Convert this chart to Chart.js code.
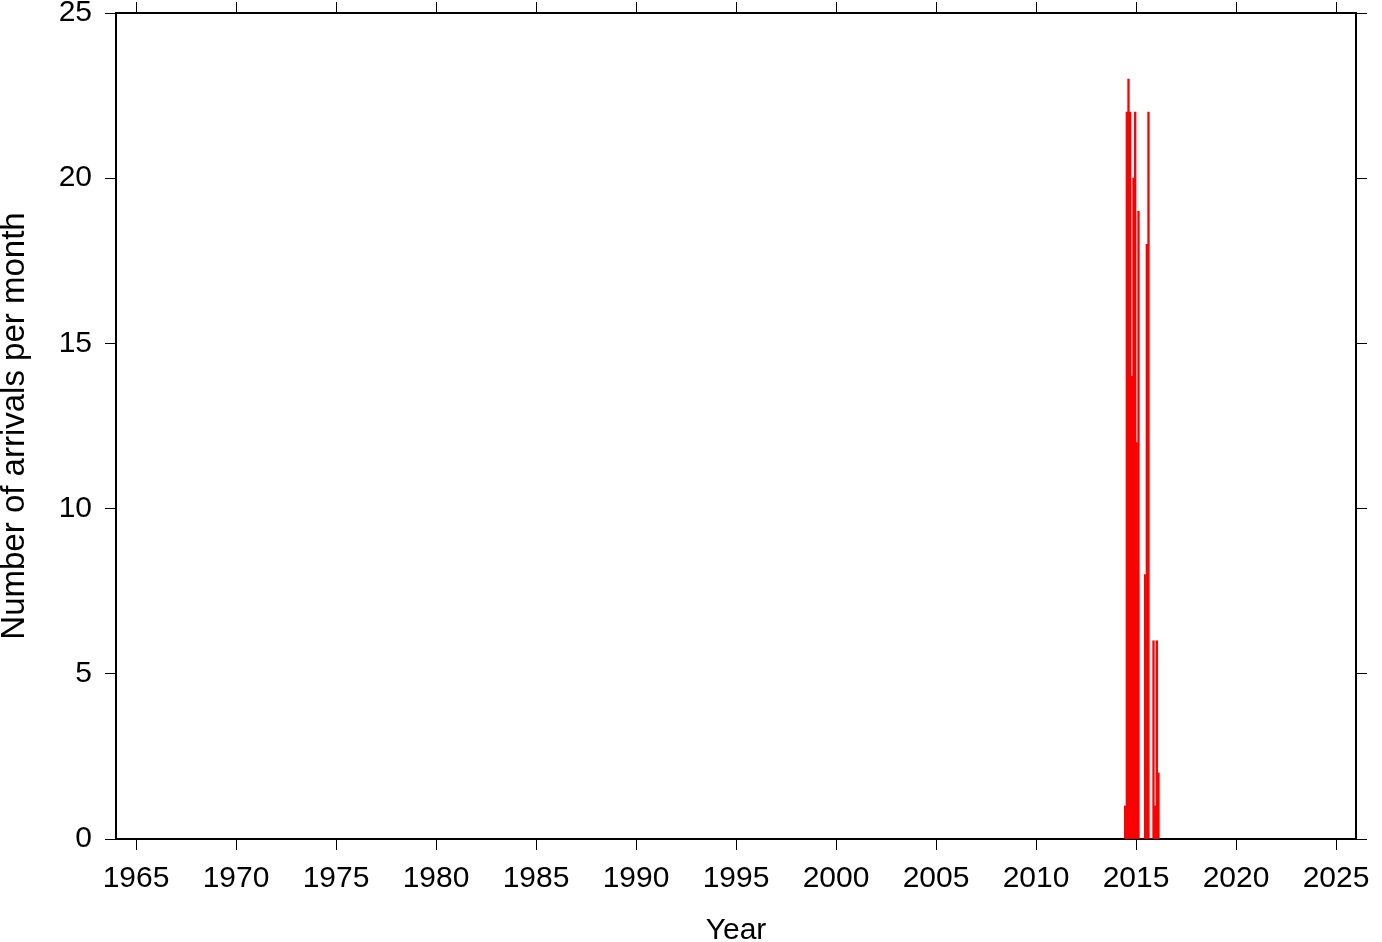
<!DOCTYPE html>
<html>
<head>
<meta charset="utf-8">
<script src="https://cdn.jsdelivr.net/npm/chart.js@4/dist/chart.umd.min.js"></script>
<style>
  html, body { margin: 0; padding: 0; background: #fff; }
  #wrap { width: 1382px; height: 942px; }
</style>
</head>
<body>
<div id="wrap"><canvas id="chart" width="1382" height="942"></canvas></div>
<script>
/* ================================
   Data (monthly arrival counts)
================================ */
const months = [
  '2014-06', '2014-07', '2014-08', '2014-09', '2014-10', '2014-11', '2014-12',
  '2015-01', '2015-02', '2015-03', '2015-04', '2015-05', '2015-06', '2015-07',
  '2015-08', '2015-09', '2015-10', '2015-11', '2015-12', '2016-01', '2016-02'
];
const arrivals = [1, 22, 23, 22, 14, 20, 22, 12, 19, 0, 0, 0, 8, 18, 22, 0, 0, 6, 1, 6, 2];

const yearTicks = [1965, 1970, 1975, 1980, 1985, 1990, 1995, 2000, 2005, 2010, 2015, 2020, 2025];
const countTicks = [0, 5, 10, 15, 20, 25];

/* ================================
   Helpers
================================ */
// '2014-06' -> middle of that month as a decimal year
function monthToYear(m) {
  const [y, mo] = m.split('-').map(Number);
  return y + (mo - 0.5) / 12;
}

const FAMILY = "'Liberation Sans', Arial, sans-serif";
const TICK_FONT = { family: FAMILY, size: 30, lineHeight: 1 };

function frameGrid() {
  return {
    display: true,
    offset: false,
    drawOnChartArea: false,
    drawTicks: true,
    tickLength: 11,
    color: '#000',
    lineWidth: 1
  };
}

const frameBorder = { display: true, color: '#000', width: 2 };

/* ================================
   Chart
================================ */
new Chart(document.getElementById('chart').getContext('2d'), {
  type: 'bar',
  data: {
    datasets: [{
      data: months.map((m, i) => ({ x: monthToYear(m), y: arrivals[i] })),
      backgroundColor: 'rgb(255,0,0)',
      borderWidth: 0,
      barPercentage: 1,
      categoryPercentage: 1
    }]
  },
  options: {
    responsive: false,
    animation: false,
    layout: { padding: 0 },
    plugins: {
      legend: { display: false },
      tooltip: { enabled: false }
    },
    scales: {
      x: {
        type: 'linear',
        position: 'bottom',
        offset: false,
        min: 1964,
        max: 2026,
        grid: frameGrid(),
        border: frameBorder,
        afterBuildTicks: s => { s.ticks = yearTicks.map(v => ({ value: v })); },
        afterFit: s => { s.height = 103; s.paddingLeft = 0; s.paddingRight = 0; },
        ticks: {
          color: '#000',
          font: TICK_FONT,
          padding: 14,
          maxRotation: 0,
          autoSkip: false,
          callback: v => String(v)
        },
        title: {
          display: true,
          text: 'Year',
          color: '#000',
          font: { family: FAMILY, size: 30, lineHeight: 0.75 },
          padding: 0
        }
      },
      x2: {
        type: 'linear',
        position: 'top',
        offset: false,
        min: 1964,
        max: 2026,
        grid: frameGrid(),
        border: frameBorder,
        afterBuildTicks: s => { s.ticks = yearTicks.map(v => ({ value: v })); },
        afterFit: s => { s.height = 13; s.paddingLeft = 0; s.paddingRight = 0; },
        ticks: { display: false }
      },
      y: {
        type: 'linear',
        position: 'left',
        min: 0,
        max: 25,
        grid: frameGrid(),
        border: frameBorder,
        afterBuildTicks: s => { s.ticks = countTicks.map(v => ({ value: v })); },
        afterFit: s => { s.width = 116; s.paddingTop = 0; s.paddingBottom = 0; },
        ticks: {
          color: '#000',
          font: TICK_FONT,
          padding: 13,
          callback: v => String(v)
        },
        title: {
          display: true,
          text: 'Number of arrivals per month',
          color: '#000',
          font: { family: FAMILY, size: 33, lineHeight: 0.9 },
          padding: 0
        }
      },
      y2: {
        type: 'linear',
        position: 'right',
        min: 0,
        max: 25,
        grid: frameGrid(),
        border: frameBorder,
        afterBuildTicks: s => { s.ticks = countTicks.map(v => ({ value: v })); },
        afterFit: s => { s.width = 26; s.paddingTop = 0; s.paddingBottom = 0; },
        ticks: { display: false }
      }
    }
  }
});
</script>
</body>
</html>
